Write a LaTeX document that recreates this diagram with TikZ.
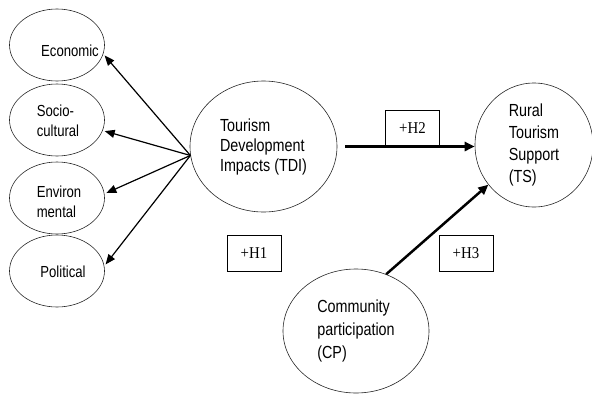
\documentclass[tikz,border=0pt]{standalone}
\usepackage{fontspec}
\setmainfont{Liberation Sans}[FakeStretch=0.82]
\newfontfamily\hypfont{Liberation Serif}[FakeStretch=0.9]
\usetikzlibrary{shapes.geometric, arrows.meta, positioning}

\begin{document}
\begin{tikzpicture}[x=1pt, y=-1pt,
    font=\fontsize{17.5}{20}\selectfont,
    factor/.style={draw=black!85, ellipse, line width=0.6pt, inner sep=0pt, align=left},
    hyp/.style={draw, line width=0.8pt, minimum width=54pt, minimum height=36pt,
        inner sep=0pt, font=\hypfont\fontsize{16.5}{18}\selectfont},
    thin arrow/.style={-{Triangle[length=10pt,width=8pt]}, line width=1.2pt},
    thick arrow/.style={-{Triangle[length=10pt,width=9pt]}, line width=2.5pt}]
    \useasboundingbox (0,0) rectangle (592,394);

    % impact dimensions
    \foreach \n/\y/\dx/\dy/\m in {
        eco/45/13/6/{Economic},
        soc/120/1/1/{Socio-\\cultural},
        env/198/2/4/{Environ\\mental},
        pol/271/6/1/{Political}}
        \node[factor, minimum width=95pt, minimum height=72pt,
            label={[xshift=\dx pt, yshift=-\dy pt, align=left,
                font=\fontsize{16}{20}\selectfont]center:\m}] (\n) at (57,\y) {};

    % constructs
    \node[factor, minimum width=147pt, minimum height=131pt] (tdi) at (263.5,146.5)
        {Tourism\\Development\\Impacts (TDI)};
    \node[factor, minimum width=118pt, minimum height=124pt,
        font=\fontsize{17.5}{22}\selectfont] (ts) at (534,145)
        {Rural\\Tourism\\Support\\(TS)};
    \node[factor, minimum width=146pt, minimum height=124pt,
        font=\fontsize{17.5}{23}\selectfont] (cp) at (356,331)
        {Community\\participation\\(CP)};

    % hypotheses
    \node[hyp] (h1) at (254,253) {+H1};
    \node[hyp] (h2) at (412.5,128.5) {+H2};
    \node[hyp] (h3) at (466,253) {+H3};

    \coordinate (src) at (tdi.187);
    \foreach \n/\a in {eco/-11, soc/-13, env/5, pol/6}
        \draw[thin arrow, shorten >=2pt] (src) -- (\n.\a);

    \draw[thick arrow, shorten <=8pt] (tdi.east) -- (tdi.east -| ts.west);
    \draw[thick arrow] (cp.62) -- (ts.221);
\end{tikzpicture}
\end{document}
